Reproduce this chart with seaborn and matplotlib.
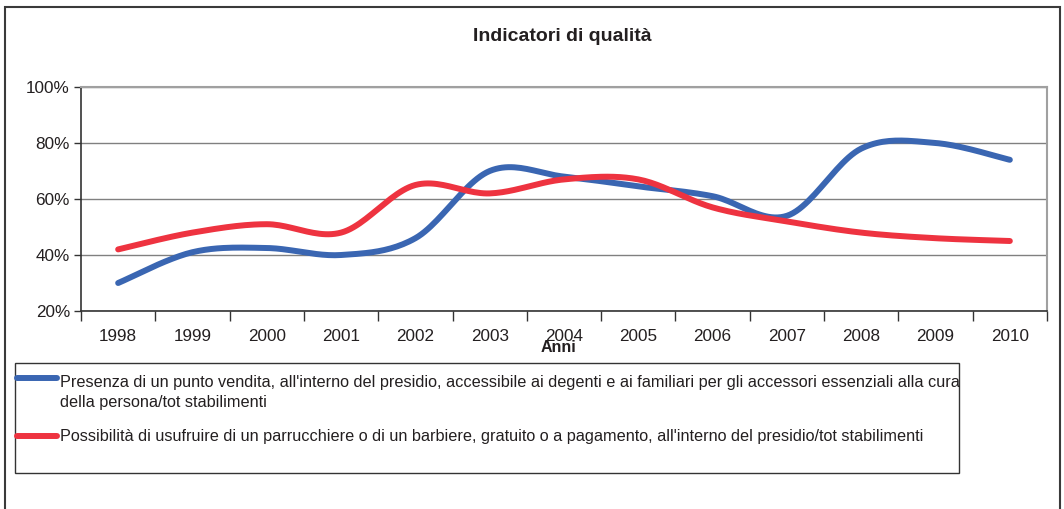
import numpy as np
import pandas as pd
import matplotlib.pyplot as plt
import seaborn as sns
from matplotlib.patches import Rectangle
from matplotlib.lines import Line2D

# Data (percent)
anni = ['1998', '1999', '2000', '2001', '2002', '2003', '2004',
        '2005', '2006', '2007', '2008', '2009', '2010']
punto_vendita = [30, 41, 42.5, 40, 46, 70, 68, 64.5, 61, 54, 78, 80, 74]
parrucchiere = [42, 48, 51, 48, 65, 62, 67, 67, 57, 52, 48, 46, 45]

lab_blu = ["Presenza di un punto vendita, all'interno del presidio, accessibile ai degenti e ai familiari per gli accessori essenziali alla cura",
           "della persona/tot stabilimenti"]
lab_rosso = "Possibilità di usufruire di un parrucchiere o di un barbiere, gratuito o a pagamento, all'interno del presidio/tot stabilimenti"

BLU = '#3a66b2'
ROSSO = '#ee3340'
TXT = '#231f20'


# Excel-like smoothed line: bezier segments through the data points
def smooth(vals, n=24):
    p = np.asarray(vals, float)
    x = np.arange(len(p), dtype=float)
    pp = np.concatenate([[p[0]], p, [p[-1]]])
    xx = np.concatenate([[x[0]], x, [x[-1]]])
    t = np.linspace(0, 1, n, endpoint=False)[:, None]
    out = []
    for i in range(len(p) - 1):
        a = np.array([xx[i + 1], pp[i + 1]])
        b = np.array([xx[i + 2], pp[i + 2]])
        c1 = a + (b - np.array([xx[i], pp[i]])) / 6
        c2 = b - (np.array([xx[i + 3], pp[i + 3]]) - a) / 6
        seg = ((1 - t) ** 3) * a + 3 * ((1 - t) ** 2) * t * c1 + 3 * (1 - t) * t ** 2 * c2 + t ** 3 * b
        out.append(seg)
    out.append(np.array([[x[-1], p[-1]]]))
    return np.vstack(out)


rows = []
for nome, vals in [('punto vendita', punto_vendita), ('parrucchiere', parrucchiere)]:
    s = smooth(vals)
    rows.append(pd.DataFrame({'pos': s[:, 0], 'valore': s[:, 1], 'serie': nome}))
df = pd.concat(rows, ignore_index=True)

sns.set_theme(style='white')
plt.rcParams['font.family'] = ['Liberation Sans', 'DejaVu Sans']
plt.rcParams['text.color'] = TXT

fig = plt.figure(figsize=(10.64, 5.09), dpi=100)
ax = fig.add_axes([81 / 1064, 198 / 509, 966 / 1064, 224 / 509])

sns.lineplot(data=df, x='pos', y='valore', hue='serie', palette=[BLU, ROSSO],
             sort=False, estimator=None, linewidth=4.3, legend=False,
             solid_capstyle='round', ax=ax)

ax.set_xlim(-0.5, len(anni) - 0.5)
ax.set_ylim(20, 100)
ax.set_yticks([20, 40, 60, 80, 100])
ax.yaxis.set_major_formatter(lambda v, pos: f'{v:.0f}%')
ax.yaxis.grid(True, color='#808080', lw=1)
ax.set_axisbelow(True)

# ticks between categories, labels at centres
ax.set_xticks(np.arange(-0.5, len(anni), 1))
ax.set_xticklabels([])
ax.set_xticks(np.arange(len(anni)), minor=True)
ax.set_xticklabels(anni, minor=True)
ax.tick_params(axis='x', which='major', bottom=True, length=7, width=1, color='#333333', direction='out')
ax.tick_params(axis='x', which='minor', bottom=True, length=0, labelsize=12.3, pad=13, labelcolor=TXT)
ax.tick_params(axis='y', left=True, length=5, width=1, color='#333333', labelsize=12.3, pad=3, labelcolor=TXT)

for side in ['left', 'bottom']:
    ax.spines[side].set_color('#333333')
    ax.spines[side].set_linewidth(1.2)
for side in ['top', 'right']:
    ax.spines[side].set_color('#a0a0a0')
    ax.spines[side].set_linewidth(1.5)

ax.set_ylabel('')
ax.set_xlabel('Anni', fontsize=11.5, fontweight='bold', color=TXT)
ax.xaxis.set_label_coords((558 - 81) / 966, (311 - 347) / 224)
ax.xaxis.label.set_va('center')

ax.set_title('Indicatori di qualità', fontsize=14, fontweight='bold', color=TXT,
             x=(562 - 81) / 966, y=(464 - 198) / 224, va='center')

# outer chart frame
fig.add_artist(Rectangle((5 / 1064, -0.1), 1055 / 1064, (509 - 7) / 509 + 0.1,
                         transform=fig.transFigure, fill=False, ec='#3a3a3a', lw=1.5))

# legend box drawn by hand so the blue key sits on the first text line
fig.add_artist(Rectangle((15 / 1064, (509 - 473) / 509), 944 / 1064, 110 / 509,
                         transform=fig.transFigure, fill=False, ec='#333333', lw=1))
for col, ypix in [(BLU, 378), (ROSSO, 436)]:
    fig.add_artist(Line2D([17 / 1064, 57 / 1064], [(509 - ypix) / 509] * 2,
                          transform=fig.transFigure, color=col, lw=4.3, solid_capstyle='round'))
fig.text(60 / 1064, (509 - 382) / 509, lab_blu[0], fontsize=11.7, va='center', ha='left')
fig.text(60 / 1064, (509 - 402) / 509, lab_blu[1], fontsize=11.7, va='center', ha='left')
fig.text(60 / 1064, (509 - 436) / 509, lab_rosso, fontsize=11.7, va='center', ha='left')

fig.savefig('out.png', dpi=100, facecolor='white')
